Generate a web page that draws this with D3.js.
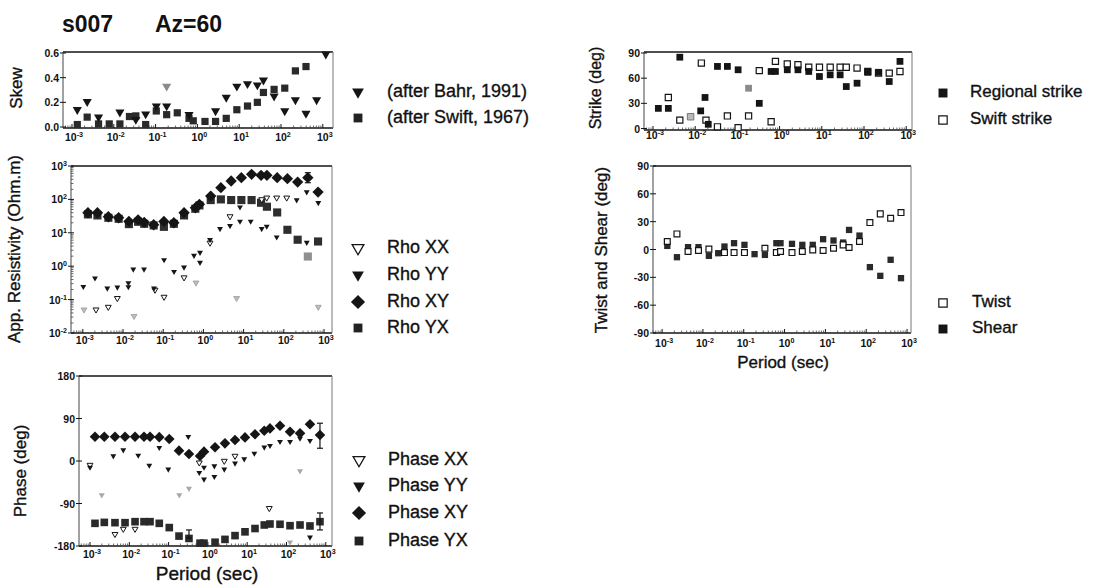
<!DOCTYPE html>
<html><head><meta charset="utf-8">
<script src="https://cdn.jsdelivr.net/npm/d3@7"></script>
<style>body{margin:0;background:#fff;} text{font-family:"Liberation Sans",Arial,sans-serif;fill:#111;} .heavy{stroke:#111;stroke-width:0.35px;}</style>
</head><body><svg id="c" width="1107" height="585"></svg>
<script>
// ---------------- DATA ----------------
const periods = [0.00134,0.00231,0.00432,0.00778,0.0140,0.0237,0.0337,0.0579,0.104,0.184,0.330,0.630,0.796,1.52,2.72,4.90,8.79,15.8,27.2,38.0,68.4,123,221,396,711,1180];
const xTickExps = [-3,-2,-1,0,1,2,3];

// Skew
const skewBahr  = [0.14,0.205,0.08,null,0.12,null,0.06,0.105,0.17,0.17,null,0.10,null,null,0.13,0.24,0.33,0.35,0.34,0.38,0.25,0.13,0.22,0.11,0.22,0.59];
const skewBahrFaint = [[0.184,0.33]];
const skewSwift = [0.02,0.08,0.025,0.025,0.025,0.085,0.09,0.02,0.13,0.10,0.115,0.07,0.05,0.045,0.045,0.07,0.14,0.17,0.20,0.28,0.305,0.315,0.455,0.49,null,null];
const skewTicks = [0,0.2,0.4,0.6];

// Apparent resistivity
const rhoXY = [39.8,39.8,30.2,28.2,21.9,24.5,20.4,17.4,21.9,20,39.8,56,71,126,224,355,447,562,525,525,447,417,331,447,166,null];
const rhoYX = [35.5,33.1,28.2,26.3,18.2,21.4,18.6,16.6,15.1,18.6,33.1,52.5,66,95.5,100,95.5,95.5,95.5,79.4,60.3,40.7,12.3,6.2,null,5.5,null];
const rhoYXFaint = [[396,1.95]];
const rhoXYErr = [[396,316,630]];
const rhoYY = [[0.00103,0.245],[0.00201,0.437],[0.00406,0.219],[0.00722,0.234],[0.0136,0.316],[0.0136,0.24],[0.018,0.81],[0.0333,0.81],[0.059,0.219],[0.105,1.55],[0.186,0.69],[0.329,0.93],[0.583,2.09],[0.822,2.57],[0.822,1.29],[1.46,6.2],[2.59,13.2],[4.59,16.2],[8.13,21.9],[8.13,58.9],[15.0,21.9],[28.2,13.2],[37.6,15.5],[66.5,7.4],[209,95.5],[372,5.1],[372,166],[721,79.4]];
const rhoXX = [[0.00213,0.050],[0.0043,0.060],[0.00722,0.110],[0.0625,0.195],[0.105,0.12],[0.33,0.457],[1.46,5.0],[4.59,30.9],[28.2,100],[37.6,112],[66.5,112],[118,112]];
const rhoXXFaint = [[0.00107,0.050],[0.0188,0.032],[0.655,0.32],[721,0.060],[6.7,0.11]];
const rhoTickExps = [-2,-1,0,1,2,3];

// Phase
const phaseXY = [51.5,51.5,51.5,51.5,51.5,51.5,51.5,50.5,46.6,21.9,14.8,10.6,19.8,29,37.4,44.5,50,56.5,64,69,74.8,62,58.5,77.7,55,null];
const phaseYX = [-132,-130,-130.6,-130.6,-128.5,-128.5,-128.5,-132,-141,-159,-164,-174,-174,-172,-166,-158,-150,-143,-135.5,-133.4,-134,-137,-135.5,-137.6,-128.5,null];
const phaseXYErr = [[711,27,80]];
const phaseYXErr = [[711,-146,-110],[0.330,-163,-146]];
const phaseYY = [[0.001,-13.4],[0.00392,10.6],[0.00703,23.3],[0.0169,12],[0.0323,-9.2],[0.0579,28.2],[0.0982,-17.6],[0.317,51.5],[0.604,-24.7],[0.796,-38.8],[0.796,-13.4],[1.46,-33.2],[1.46,-10.6],[2.61,-17.6],[4.9,-4.9],[8.4,4.2],[15.2,16.2],[27.2,29],[38,32.5],[68.4,41],[123,41],[221,48],[396,43],[396,-161.6]];
const phaseXX = [[0.001,-8.5],[0.00432,-155],[0.00703,-144],[0.0140,-144],[0.604,-3.5],[2.61,0],[4.9,10.6],[36.5,-100]];
const phaseFaint = [[0.00199,-72],[0.187,-72],[0.330,-58],[221,-21],[123,-172]];
const phaseTicks = [-180,-90,0,90,180];

// Strike
const strikeRegional = [[0.00134,24],[0.00231,24],[0.00432,85],[0.0135,21],[0.0171,37],[0.0204,5],[0.0337,74],[0.0579,74],[0.104,70],[0.330,30],[0.630,68],[0.796,68],[1.52,70],[2.72,70],[4.90,68],[8.79,62],[15.8,64],[27.2,64],[38.0,50],[68.4,54],[123,67],[221,67],[396,56],[711,80]];
const strikeRegionalFaint = [[0.184,48]];
const strikeSwift = [[0.00231,37],[0.00432,10],[0.0140,78],[0.018,10],[0.0337,2],[0.0579,15],[0.104,1],[0.184,15],[0.330,69],[0.630,8],[0.796,80],[1.52,77],[2.72,76],[4.90,73],[8.79,73],[15.8,73],[27.2,73],[38.0,73],[68.4,72],[123,68],[221,66],[396,66],[711,68]];
const strikeSwiftFaint = [[0.00778,14]];
const strikeTicks = [0,30,60,90];

// Twist and shear
const twist = [8.6,16.8,-2.2,-1.1,0.4,null,-3.3,-3.3,-3.3,null,1.4,-3.3,-2.2,-3.3,-2.2,-0.4,-1.1,1.4,5.0,2.1,8.6,29,38.4,33.7,39.8,null];
const shear = [3.9,-8.3,2.5,2.5,-6.8,-4,3.2,6.8,5.0,-5.0,-5.8,6.8,6.8,6.1,5.0,5.0,11.1,9.7,7.5,21.1,15.0,-19,-28.4,-11.1,-30.9,null];
const twistTicks = [-90,-60,-30,0,30,60,90];

// ---------------- DRAWING ----------------
const svg = d3.select("#c");
const INK = "#151515";
const zipP = vals => periods.map((t,i)=>[t, vals[i]]).filter(d=>d[1]!=null);

function supText(sel, base, exp){
  sel.append("tspan").text(base);
  sel.append("tspan").attr("dy",-4).attr("font-size","0.68em").text(exp);
}

function makePanel(p){
  const x = d3.scaleLog().domain([10**p.xe[0], 10**p.xe[1]]).range([p.left, p.right]);
  const y = (p.ylog ? d3.scaleLog() : d3.scaleLinear()).domain(p.ydom).range(p.yr || [p.bottom, p.top]);
  const g = svg.append("g");
  g.append("line").attr("x1",p.left).attr("x2",p.right).attr("y1",p.top).attr("y2",p.top).attr("stroke",INK).attr("stroke-width",1.6);
  g.append("line").attr("x1",p.left).attr("x2",p.right).attr("y1",p.bottom).attr("y2",p.bottom).attr("stroke",INK).attr("stroke-width",1.6);
  g.append("line").attr("x1",p.left).attr("x2",p.left).attr("y1",p.top).attr("y2",p.bottom).attr("stroke","#555").attr("stroke-width",1.1);
  g.append("line").attr("x1",p.right).attr("x2",p.right).attr("y1",p.top).attr("y2",p.bottom).attr("stroke","#777").attr("stroke-width",1);
  xTickExps.forEach(e=>{
    const xv = x(10**e);
    g.append("line").attr("x1",xv).attr("x2",xv).attr("y1",p.bottom).attr("y2",p.bottom-4).attr("stroke",INK).attr("stroke-width",1);
    const t = g.append("text").attr("x",xv+2).attr("y",p.xlabY).attr("text-anchor","middle")
      .attr("font-size",10.5).attr("font-weight","bold");
    supText(t,"10",String(e));
  });
  for(let e=-4;e<=3;e++){
    for(let k=2;k<=9;k++){
      const v = k*10**e;
      if(v<=x.domain()[0]||v>=x.domain()[1]) continue;
      g.append("line").attr("x1",x(v)).attr("x2",x(v)).attr("y1",p.bottom).attr("y2",p.bottom-2.5).attr("stroke","#444").attr("stroke-width",0.8);
    }
  }
  p.yticks.forEach(v=>{
    const yv = y(v);
    g.append("line").attr("x1",p.left-3).attr("x2",p.left+3).attr("y1",yv).attr("y2",yv).attr("stroke",INK).attr("stroke-width",1);
    const t = g.append("text").attr("x",p.left-4).attr("y",yv+4).attr("text-anchor","end")
      .attr("font-size",10.5).attr("font-weight","bold");
    if(p.ylog) supText(t,"10",String(Math.round(Math.log10(v))));
    else t.text(p.yfmt ? p.yfmt(v) : String(v));
  });
  if(p.ylog){
    for(let e=-2;e<3;e++) for(let k=2;k<=9;k++){
      const yv = y(k*10**e);
      g.append("line").attr("x1",p.left).attr("x2",p.left+2.5).attr("y1",yv).attr("y2",yv).attr("stroke","#444").attr("stroke-width",0.8);
    }
  }
  g.append("text").attr("class","heavy").attr("transform",`translate(${p.ytX},${p.ytY}) rotate(-90)`).attr("text-anchor","middle")
    .attr("dominant-baseline","middle").attr("font-size",p.ytSize||17).text(p.ytitle);
  if(p.xtitle){
    g.append("text").attr("class","heavy").attr("x",p.xtX).attr("y",p.xtY).attr("text-anchor","middle").attr("font-size",p.xtSize||17).text(p.xtitle);
  }
  return {x,y,g};
}

function symPath(shape,size){
  return d3.symbol().type(shape==="tri"?d3.symbolTriangle:d3.symbolSquare).size(size)();
}
function symRot(shape){ return shape==="tri"?180:(shape==="dia"?45:0); }

function pts(P, data, o){
  const d0 = symPath(o.shape,o.size), r = symRot(o.shape);
  P.g.append("g").selectAll("path").data(data).join("path")
    .attr("d",d0)
    .attr("transform",d=>`translate(${P.x(d[0])},${P.y(d[1])}) rotate(${r})`)
    .attr("fill",o.fill).attr("stroke",o.stroke||"none").attr("stroke-width",o.sw||0);
}
function errs(P, data){
  const g = P.g.append("g").attr("stroke",INK).attr("stroke-width",1.2);
  data.forEach(d=>{
    const xv=P.x(d[0]), a=P.y(d[1]), b=P.y(d[2]);
    g.append("line").attr("x1",xv).attr("x2",xv).attr("y1",a).attr("y2",b);
    g.append("line").attr("x1",xv-3).attr("x2",xv+3).attr("y1",a).attr("y2",a);
    g.append("line").attr("x1",xv-3).attr("x2",xv+3).attr("y1",b).attr("y2",b);
  });
}

function legend(x0, tx, items, fs){
  items.forEach(it=>{
    svg.append("path").attr("d",symPath(it.shape,it.size))
      .attr("transform",`translate(${x0},${it.y}) rotate(${symRot(it.shape)})`)
      .attr("fill",it.fill).attr("stroke",it.stroke||"none").attr("stroke-width",it.sw||0);
    svg.append("text").attr("class","heavy").attr("x",tx).attr("y",it.y).attr("dominant-baseline","middle")
      .attr("font-size",fs).text(it.label);
  });
}

// Title
svg.append("text").attr("x",62).attr("y",32).attr("font-size",23).attr("font-weight","bold").text("s007");
svg.append("text").attr("x",155).attr("y",32).attr("font-size",23).attr("font-weight","bold").text("Az=60");

// Skew panel
const PS = makePanel({left:63,right:333,top:52,bottom:128,xe:[-3.215,3.244],ydom:[0,0.6],yr:[127,53],
  yticks:skewTicks,yfmt:v=>v.toFixed(1),xlabY:141,ytitle:"Skew",ytX:18,ytY:88});
pts(PS, zipP(skewSwift), {shape:"sq",size:52,fill:"#2a2a2a"});
pts(PS, zipP(skewBahr), {shape:"tri",size:36,fill:INK});
pts(PS, skewBahrFaint, {shape:"tri",size:36,fill:"#8a8a8a"});
legend(358, 387, [
  {shape:"tri",size:60,fill:INK,y:92,label:"(after Bahr, 1991)"},
  {shape:"sq",size:78,fill:"#222",y:118,label:"(after Swift, 1967)"}], 18);

// Rho panel
const PR = makePanel({left:71,right:332,top:166,bottom:333,xe:[-3.294,3.199],ylog:true,ydom:[0.01,1000],
  yticks:rhoTickExps.map(e=>10**e),xlabY:344,ytitle:"App. Resistivity (Ohm.m)",ytX:16,ytY:249});
pts(PR, zipP(rhoYX), {shape:"sq",size:66,fill:"#2e2e2e"});
pts(PR, rhoYXFaint, {shape:"sq",size:66,fill:"#8f8f8f"});
pts(PR, zipP(rhoXY), {shape:"dia",size:64,fill:INK});
errs(PR, rhoXYErr);
pts(PR, rhoXXFaint, {shape:"tri",size:15,fill:"#bdbdbd",stroke:"#9a9a9a",sw:0.8});
pts(PR, rhoXX, {shape:"tri",size:15,fill:"#fff",stroke:INK,sw:1});
pts(PR, rhoYY, {shape:"tri",size:15,fill:INK});
legend(358, 387, [
  {shape:"tri",size:60,fill:"#fff",stroke:INK,sw:1.3,y:248,label:"Rho XX"},
  {shape:"tri",size:60,fill:INK,y:275,label:"Rho YY"},
  {shape:"dia",size:100,fill:INK,y:302,label:"Rho XY"},
  {shape:"sq",size:78,fill:"#222",y:328,label:"Rho YX"}], 18);

// Phase panel
const PP = makePanel({left:79,right:332,top:376,bottom:546,xe:[-3.28,3.158],ydom:[-180,180],
  yticks:phaseTicks,xlabY:558,ytitle:"Phase (deg)",ytX:22,ytY:471,
  xtitle:"Period (sec)",xtX:207,xtY:580,xtSize:19});
pts(PP, zipP(phaseYX), {shape:"sq",size:58,fill:"#2a2a2a"});
pts(PP, zipP(phaseXY), {shape:"dia",size:56,fill:INK});
errs(PP, phaseXYErr); errs(PP, phaseYXErr);
pts(PP, phaseFaint, {shape:"tri",size:16,fill:"#a8a8a8"});
pts(PP, phaseXX, {shape:"tri",size:15,fill:"#fff",stroke:INK,sw:1});
pts(PP, phaseYY, {shape:"tri",size:15,fill:INK});
legend(359, 388, [
  {shape:"tri",size:60,fill:"#fff",stroke:INK,sw:1.3,y:460,label:"Phase XX"},
  {shape:"tri",size:60,fill:INK,y:486,label:"Phase YY"},
  {shape:"dia",size:100,fill:INK,y:513,label:"Phase XY"},
  {shape:"sq",size:78,fill:"#222",y:541,label:"Phase YX"}], 18);

// Strike panel
const PT = makePanel({left:644,right:912,top:52,bottom:130,xe:[-3.213,3.137],ydom:[0,90],yr:[128.5,53],
  yticks:strikeTicks,xlabY:139,ytitle:"Strike (deg)",ytX:597,ytY:88,ytSize:16});
pts(PT, strikeSwiftFaint, {shape:"sq",size:42,fill:"#bbb",stroke:"#777",sw:1});
pts(PT, strikeSwift, {shape:"sq",size:38,fill:"#fff",stroke:INK,sw:1.2});
pts(PT, strikeRegionalFaint, {shape:"sq",size:46,fill:"#8a8a8a"});
pts(PT, strikeRegional, {shape:"sq",size:46,fill:INK});
legend(943, 970, [
  {shape:"sq",size:80,fill:INK,y:93,label:"Regional strike"},
  {shape:"sq",size:70,fill:"#fff",stroke:INK,sw:1.2,y:120,label:"Swift strike"}], 17);

// Twist panel
const PW = makePanel({left:653,right:911,top:166,bottom:333,xe:[-3.223,3.097],ydom:[-90,90],
  yticks:twistTicks,xlabY:347,ytitle:"Twist and Shear (deg)",ytX:603,ytY:250,
  xtitle:"Period (sec)",xtX:783,xtY:368,xtSize:17});
pts(PW, zipP(shear), {shape:"sq",size:40,fill:"#2a2a2a"});
pts(PW, zipP(twist), {shape:"sq",size:34,fill:"#fff",stroke:INK,sw:1.2});
legend(943, 972, [
  {shape:"sq",size:70,fill:"#fff",stroke:INK,sw:1.2,y:303,label:"Twist"},
  {shape:"sq",size:80,fill:INK,y:329,label:"Shear"}], 17);
</script>
</body></html>
